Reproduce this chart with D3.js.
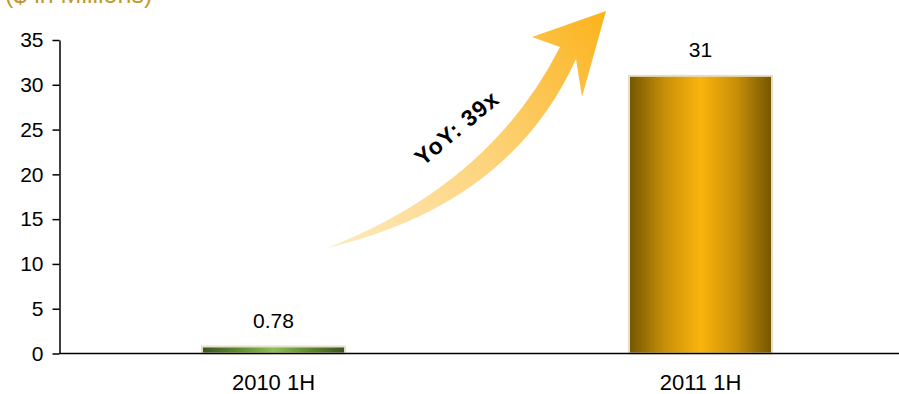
<!DOCTYPE html>
<html>
<head>
<meta charset="utf-8">
<script src="https://cdn.jsdelivr.net/npm/d3@7"></script>
<style>
  html, body { margin: 0; padding: 0; background: #fff; }
  svg { display: block; font-family: "Liberation Sans", Arial, sans-serif; }
</style>
</head>
<body>
<div class="chart"></div>
<script>
// data
var categories = ["2010 1H", "2011 1H"];
var values = [0.78, 31];
var valueLabels = ["0.78", "31"];
var yTicks = [0, 5, 10, 15, 20, 25, 30, 35];

var width = 899, height = 394;

var svg = d3.select(".chart")
    .append("svg")
    .attr("width", width)
    .attr("height", height);

var defs = svg.append("defs");

// cylinder-ish horizontal gradients for the bars
var gradStops = [
    { id: "gGreen", stops: ["#3a5420", "#5d8a30", "#8cc052", "#5d8a30", "#3a5420"] },
    { id: "gGold", stops: ["#735600", "#c88f08", "#fbb40c", "#c88f08", "#735600"] }
];
gradStops.forEach(function (g) {
    var lg = defs.append("linearGradient").attr("id", g.id)
        .attr("x1", "0%").attr("x2", "100%").attr("y1", "0%").attr("y2", "0%");
    var offs = [0, 0.25, 0.5, 0.75, 1];
    g.stops.forEach(function (c, i) {
        lg.append("stop").attr("offset", offs[i]).attr("stop-color", c);
    });
});

var arrowGrad = defs.append("linearGradient").attr("id", "gArrow")
    .attr("gradientUnits", "userSpaceOnUse")
    .attr("x1", 327).attr("y1", 248).attr("x2", 606).attr("y2", 12);
arrowGrad.append("stop").attr("offset", 0).attr("stop-color", "#fdebc0");
arrowGrad.append("stop").attr("offset", 0.5).attr("stop-color", "#fdd37a");
arrowGrad.append("stop").attr("offset", 1).attr("stop-color", "#fbb31c");

// scales
var y = d3.scaleLinear().domain([0, 35]).range([353.5, 40]);
var x = d3.scaleBand().domain(categories).range([60, 914]).padding(0);
var barW = x.bandwidth() * 0.335;

// title (partly cut off at the top, as in the source slide)
svg.append("text")
    .attr("x", 5)
    .attr("y", 3)
    .attr("fill", "#bf9a2e")
    .style("font-size", "25px")
    .text("($ in Millions)");

// y axis
var yAxis = svg.append("g")
    .attr("transform", "translate(59.5,0)")
    .call(d3.axisLeft(y).tickValues(yTicks).tickSize(7).tickSizeOuter(0).tickPadding(9));
yAxis.select(".domain").attr("stroke", "#000").attr("stroke-width", 1.5);
yAxis.selectAll(".tick line").attr("stroke", "#000").attr("stroke-width", 1.5);
yAxis.selectAll("text")
    .style("font-size", "21px")
    .style("font-family", "'Liberation Sans', Arial, sans-serif")
    .attr("fill", "#000");

// bars
svg.selectAll(".bar")
    .data(values)
    .enter()
    .append("rect")
    .attr("class", "bar")
    .attr("x", function (d, i) { return x(categories[i]) + x.bandwidth() / 2 - barW / 2; })
    .attr("y", function (d) { return y(d); })
    .attr("width", barW)
    .attr("height", function (d) { return y(0) - y(d); })
    .attr("fill", function (d, i) { return i === 0 ? "url(#gGreen)" : "url(#gGold)"; })
    .attr("stroke", "#e6dfcb")
    .attr("stroke-width", 2);

// value labels
svg.selectAll(".vlabel")
    .data(values)
    .enter()
    .append("text")
    .attr("class", "vlabel")
    .attr("x", function (d, i) { return x(categories[i]) + x.bandwidth() / 2; })
    .attr("y", function (d) { return y(d) - 19; })
    .attr("text-anchor", "middle")
    .style("font-size", "21px")
    .text(function (d, i) { return valueLabels[i]; });

// x axis line
svg.append("line")
    .attr("x1", 59.5).attr("x2", width)
    .attr("y1", y(0)).attr("y2", y(0))
    .attr("stroke", "#000").attr("stroke-width", 1.5);

// category labels
svg.selectAll(".xlabel")
    .data(categories)
    .enter()
    .append("text")
    .attr("class", "xlabel")
    .attr("x", function (d) { return x(d) + x.bandwidth() / 2; })
    .attr("y", 390)
    .attr("text-anchor", "middle")
    .style("font-size", "22px")
    .text(function (d) { return d; });

// growth arrow annotation
var arrowPath = "M327,248 Q490,185 560,47 L532,37 L606,11 L582,97 L576,59 Q510,205 327,248 Z";
svg.append("path")
    .attr("d", arrowPath)
    .attr("fill", "url(#gArrow)");

svg.append("text")
    .attr("transform", "translate(462,134) rotate(-40)")
    .attr("text-anchor", "middle")
    .style("font-size", "23px")
    .style("font-weight", "bold")
    .style("letter-spacing", "1px")
    .text("YoY: 39x");
</script>
</body>
</html>
